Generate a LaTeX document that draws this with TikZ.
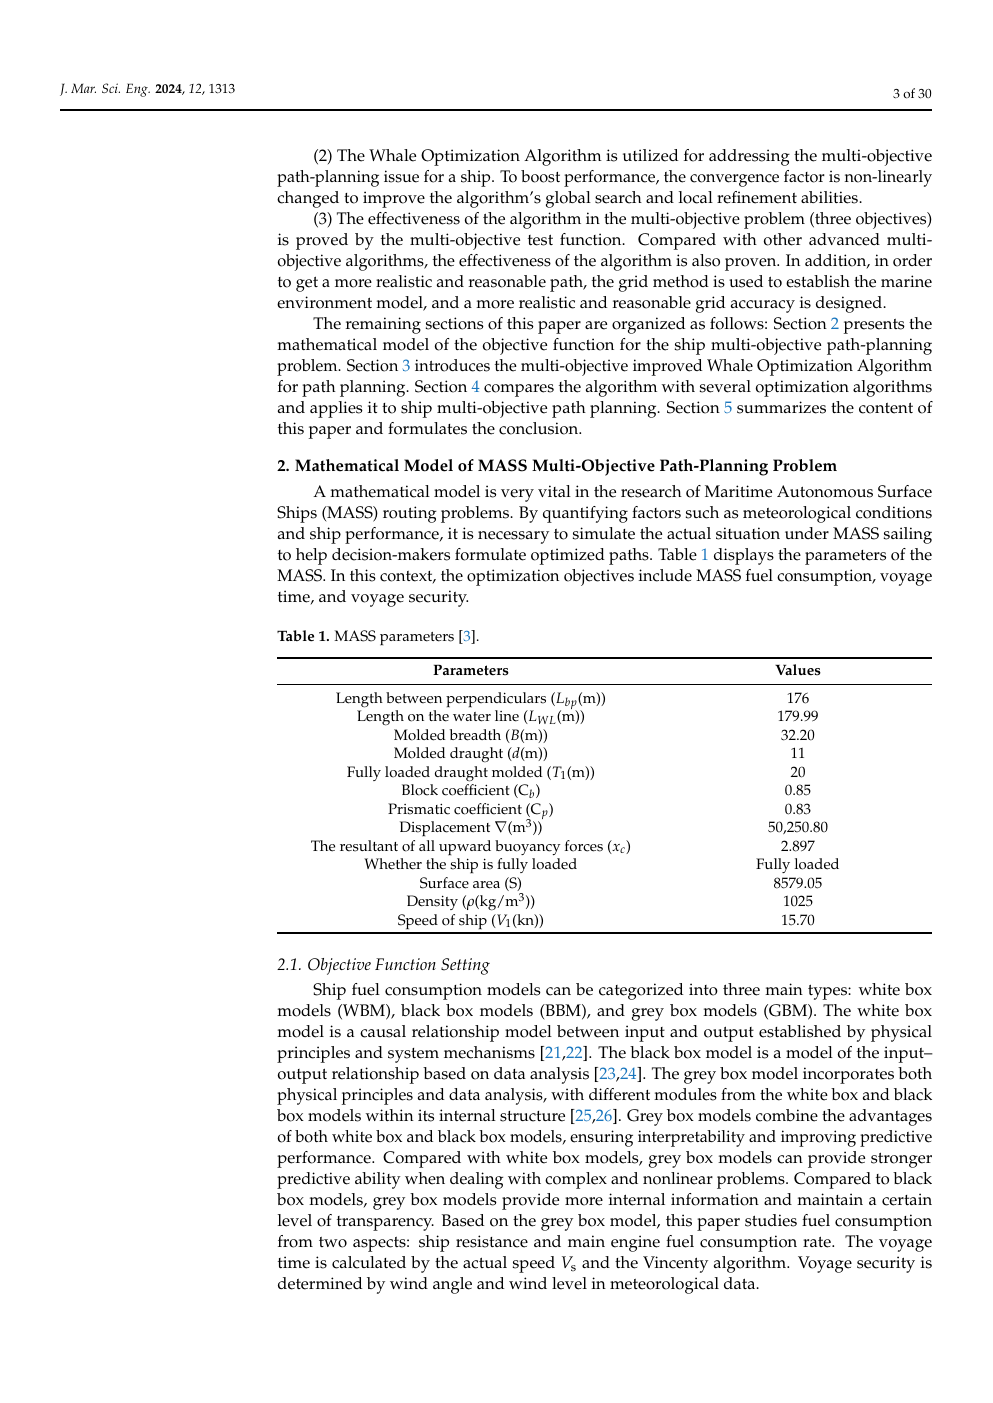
\documentclass[tikz,border=0pt]{standalone}
\usepackage[T1]{fontenc}
\usepackage{mathpazo}
\usepackage{graphicx}
\usepackage{tikz}

\definecolor{linkblue}{RGB}{25,118,190}
\newcommand{\lnk}[1]{\textcolor{linkblue}{#1}}
\newsavebox{\lnbox}
\newcommand{\setln}[2]{\sbox{\lnbox}{#2}%
  \ifdim\wd\lnbox>#1\relax\resizebox{#1}{\height}{\usebox{\lnbox}}\else\hbox to #1{#2}\fi}
\newcommand{\fullln}[1]{\setln{393pt}{#1}}
\newcommand{\indln}[1]{\setln{371.4pt}{#1}}

\tikzset{
  body/.style={anchor=base west, inner sep=0pt, font=\fontsize{10}{12.6}\selectfont},
  cell/.style={anchor=base, inner sep=0pt, font=\fontsize{9}{11}\selectfont},
  small/.style={anchor=base west, inner sep=0pt, font=\fontsize{8}{10}\selectfont},
  thickrule/.style={line width=0.8pt},
  thinrule/.style={line width=0.45pt}
}

\begin{document}
\begin{tikzpicture}[x=0.6pt, y=-0.6pt]
		\path[use as bounding box, fill=white] (0,0) rectangle (992,1403);
		% running head
		\node[small] (hdl) at (60,93.3) {\textit{J. Mar. Sci. Eng.} \textbf{2024}, \textit{12}, 1313};
		\node[small, anchor=base east] (hdr) at (932,98.3) {3 of 30};
		\draw[thickrule] (60,110) -- (932,110);
		% contributions and outline
		\node[body] (a1) at (313,161.5) {\indln{(2) The Whale Optimization Algorithm is utilized for addressing the multi-objective}};
		\node[body] (a2) at (277,182.5) {\fullln{path-planning issue for a ship. To boost performance, the convergence factor is non-linearly}};
		\node[body] (a3) at (277,203.5) {changed to improve the algorithm's global search and local refinement abilities.};
		\node[body] (b1) at (313,224.5) {\indln{(3) The effectiveness of the algorithm in the multi-objective problem (three objectives)}};
		\node[body] (b2) at (277,245.5) {\fullln{is proved by the multi-objective test function.  Compared with other advanced multi-}};
		\node[body] (b3) at (277,266.5) {\fullln{objective algorithms, the effectiveness of the algorithm is also proven. In addition, in order}};
		\node[body] (b4) at (277,287.5) {\fullln{to get a more realistic and reasonable path, the grid method is used to establish the marine}};
		\node[body] (b5) at (277,308.5) {environment model, and a more realistic and reasonable grid accuracy is designed.};
		\node[body] (c1) at (313,329.5) {\indln{The remaining sections of this paper are organized as follows: Section \lnk{2} presents the}};
		\node[body] (c2) at (277,350.5) {\fullln{mathematical model of the objective function for the ship multi-objective path-planning}};
		\node[body] (c3) at (277,371.5) {\fullln{problem. Section \lnk{3} introduces the multi-objective improved Whale Optimization Algorithm}};
		\node[body] (c4) at (277,392.5) {\fullln{for path planning. Section \lnk{4} compares the algorithm with several optimization algorithms}};
		\node[body] (c5) at (277,413.5) {\fullln{and applies it to ship multi-objective path planning. Section \lnk{5} summarizes the content of}};
		\node[body] (c6) at (277,434.5) {this paper and formulates the conclusion.};
		% section 2
		\node[body] (sec2) at (277,471) {\textbf{2. Mathematical Model of MASS Multi-Objective Path-Planning Problem}};
		\node[body] (d1) at (313,497) {\indln{A mathematical model is very vital in the research of Maritime Autonomous Surface}};
		\node[body] (d2) at (277,518) {\fullln{Ships (MASS) routing problems. By quantifying factors such as meteorological conditions}};
		\node[body] (d3) at (277,539) {\fullln{and ship performance, it is necessary to simulate the actual situation under MASS sailing}};
		\node[body] (d4) at (277,560) {\fullln{to help decision-makers formulate optimized paths. Table \lnk{1} displays the parameters of the}};
		\node[body] (d5) at (277,581) {\fullln{MASS. In this context, the optimization objectives include MASS fuel consumption, voyage}};
		\node[body] (d6) at (277,602) {time, and voyage security.};
		% table 1
		\node[body, font=\fontsize{9}{11}\selectfont] (cap) at (277,641) {\textbf{Table 1.} MASS parameters [\lnk{3}].};
		\draw[thickrule] (277,658) -- (932,658);
		\node[cell] (hpar) at (471,675.5) {\textbf{Parameters}};
		\node[cell] (hval) at (798,675.5) {\textbf{Values}};
		\draw[thinrule] (277,684) -- (932,684);
		\node[cell] (par1) at (471,703) {Length between perpendiculars ($L_{bp}$(m))};
		\node[cell] (val1) at (798,703) {176};
		\node[cell] (par2) at (471,721.5) {Length on the water line ($L_{WL}$(m))};
		\node[cell] (val2) at (798,721.5) {179.99};
		\node[cell] (par3) at (471,740) {Molded breadth ($B$(m))};
		\node[cell] (val3) at (798,740) {32.20};
		\node[cell] (par4) at (471,758.5) {Molded draught ($d$(m))};
		\node[cell] (val4) at (798,758.5) {11};
		\node[cell] (par5) at (471,777) {Fully loaded draught molded ($T_1$(m))};
		\node[cell] (val5) at (798,777) {20};
		\node[cell] (par6) at (471,795.5) {Block coefficient (C$_b$)};
		\node[cell] (val6) at (798,795.5) {0.85};
		\node[cell] (par7) at (471,814) {Prismatic coefficient (C$_p$)};
		\node[cell] (val7) at (798,814) {0.83};
		\node[cell] (par8) at (471,832.5) {Displacement $\nabla$(m$^3$))};
		\node[cell] (val8) at (798,832.5) {50,250.80};
		\node[cell] (par9) at (471,851) {The resultant of all upward buoyancy forces ($x_c$)};
		\node[cell] (val9) at (798,851) {2.897};
		\node[cell] (par10) at (471,869.5) {Whether the ship is fully loaded};
		\node[cell] (val10) at (798,869.5) {Fully loaded};
		\node[cell] (par11) at (471,888) {Surface area (S)};
		\node[cell] (val11) at (798,888) {8579.05};
		\node[cell] (par12) at (471,906.5) {Density ($\rho$(kg/m$^3$))};
		\node[cell] (val12) at (798,906.5) {1025};
		\node[cell] (par13) at (471,925) {Speed of ship ($V_1$(kn))};
		\node[cell] (val13) at (798,925) {15.70};
		\draw[thickrule] (277,933) -- (932,933);
		% section 2.1
		\node[body] (sec21) at (277,970) {\textit{2.1. Objective Function Setting}};
		\node[body] (e1) at (313,995.5) {\indln{Ship fuel consumption models can be categorized into three main types: white box}};
		\node[body] (e2) at (277,1016.5) {\fullln{models (WBM), black box models (BBM), and grey box models (GBM). The white box}};
		\node[body] (e3) at (277,1037.5) {\fullln{model is a causal relationship model between input and output established by physical}};
		\node[body] (e4) at (277,1058.5) {\fullln{principles and system mechanisms [\lnk{21},\lnk{22}]. The black box model is a model of the input--}};
		\node[body] (e5) at (277,1079.5) {\fullln{output relationship based on data analysis [\lnk{23},\lnk{24}]. The grey box model incorporates both}};
		\node[body] (e6) at (277,1100.5) {\fullln{physical principles and data analysis, with different modules from the white box and black}};
		\node[body] (e7) at (277,1121.5) {\fullln{box models within its internal structure [\lnk{25},\lnk{26}]. Grey box models combine the advantages}};
		\node[body] (e8) at (277,1142.5) {\fullln{of both white box and black box models, ensuring interpretability and improving predictive}};
		\node[body] (e9) at (277,1163.5) {\fullln{performance. Compared with white box models, grey box models can provide stronger}};
		\node[body] (e10) at (277,1184.5) {\fullln{predictive ability when dealing with complex and nonlinear problems. Compared to black}};
		\node[body] (e11) at (277,1205.5) {\fullln{box models, grey box models provide more internal information and maintain a certain}};
		\node[body] (e12) at (277,1226.5) {\fullln{level of transparency. Based on the grey box model, this paper studies fuel consumption}};
		\node[body] (e13) at (277,1247.5) {\fullln{from two aspects: ship resistance and main engine fuel consumption rate.  The voyage}};
		\node[body] (e14) at (277,1268.5) {\fullln{time is calculated by the actual speed $V_\mathrm{s}$ and the Vincenty algorithm. Voyage security is}};
		\node[body] (e15) at (277,1289.5) {determined by wind angle and wind level in meteorological data.};
	\end{tikzpicture}
\end{document}
